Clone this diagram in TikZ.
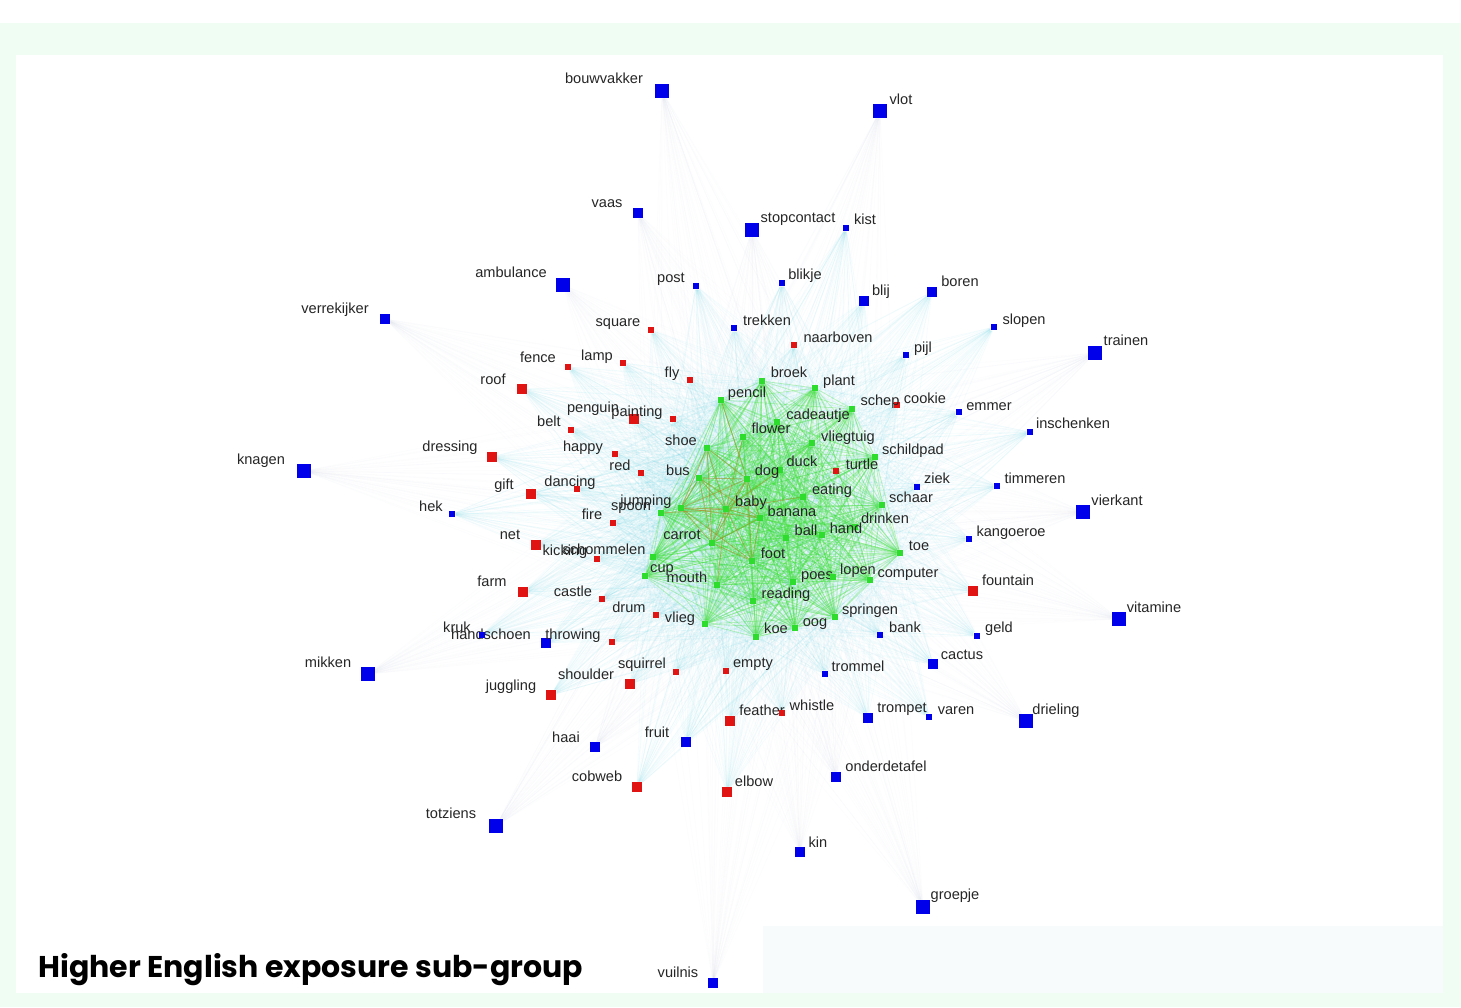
\documentclass[tikz,border=0pt]{standalone}
\usepackage{fontspec}
\setmainfont{Liberation Sans}
\newfontfamily\titlefont{Poppins}
\usetikzlibrary{positioning}
\definecolor{mint}{RGB}{239,253,243}
\definecolor{haze}{RGB}{247,251,251}
\definecolor{nblue}{RGB}{0,0,235}
\definecolor{nred}{RGB}{225,20,20}
\definecolor{ngreen}{RGB}{45,220,45}
\definecolor{farblue}{RGB}{140,160,235}
\definecolor{midcyan}{RGB}{40,205,230}
\definecolor{coregreen}{RGB}{60,225,50}
\definecolor{hotorange}{RGB}{200,120,40}
\pgfdeclarelayer{bg}\pgfdeclarelayer{edges}
\pgfsetlayers{bg,edges,main}

\begin{document}
\begin{tikzpicture}[x=0.5pt,y=-0.5pt,
sq/.style={rectangle,inner sep=0pt,minimum size=#1},
bL/.style={sq=7pt,fill=nblue},bM/.style={sq=5pt,fill=nblue},bS/.style={sq=3.4pt,fill=nblue},
rM/.style={sq=5pt,fill=nred},rS/.style={sq=3.2pt,fill=nred},g/.style={sq=3pt,fill=ngreen},
lbl/.style={anchor=base,yshift=-2.6pt,inner sep=0pt,font=\fontsize{7.3}{8}\selectfont,text=black!85},
faredge/.style={draw=farblue,opacity=.022,line width=.3pt},
midedge/.style={draw=midcyan,opacity=.05,line width=.3pt},
coreedge/.style={draw=coregreen,opacity=.3,line width=.4pt},
hotedge/.style={draw=hotorange,opacity=.45,line width=.4pt}]
\begin{pgfonlayer}{bg}
\fill[white] (0,0) rectangle (1461,1007);
\fill[mint] (0,23) rectangle (1461,1007);
\fill[white] (16,55) rectangle (1443,993);
\fill[haze] (763,926) rectangle (1443,993);
\end{pgfonlayer}
% outer blue words
\node[bL] (bouwvakker) at (662,91) {}; \node[lbl] (t-bouwvakker) at (604,78) {bouwvakker};
\node[bL] (vlot) at (880,111) {}; \node[lbl] (t-vlot) at (901,99) {vlot};
\node[bL] (stopcontact) at (752,230) {}; \node[lbl] (t-stopcontact) at (798,217) {stopcontact};
\node[bL] (ambulance) at (563,285) {}; \node[lbl] (t-ambulance) at (511,272) {ambulance};
\node[bL] (knagen) at (304,471) {}; \node[lbl] (t-knagen) at (261,459) {knagen};
\node[bL] (trainen) at (1095,353) {}; \node[lbl] (t-trainen) at (1126,340) {trainen};
\node[bL] (vierkant) at (1083,512) {}; \node[lbl] (t-vierkant) at (1117,500) {vierkant};
\node[bL] (vitamine) at (1119,619) {}; \node[lbl] (t-vitamine) at (1154,607) {vitamine};
\node[bL] (mikken) at (368,674) {}; \node[lbl] (t-mikken) at (328,662) {mikken};
\node[bL] (drieling) at (1026,721) {}; \node[lbl] (t-drieling) at (1056,709) {drieling};
\node[bL] (totziens) at (496,826) {}; \node[lbl] (t-totziens) at (451,813) {totziens};
\node[bL] (groepje) at (923,907) {}; \node[lbl] (t-groepje) at (955,894) {groepje};
\node[bM] (vaas) at (638,213) {}; \node[lbl] (t-vaas) at (607,202) {vaas};
\node[bM] (blij) at (864,301) {}; \node[lbl] (t-blij) at (881,290) {blij};
\node[bM] (boren) at (932,292) {}; \node[lbl] (t-boren) at (960,281) {boren};
\node[bM] (verrekijker) at (385,319) {}; \node[lbl] (t-verrekijker) at (335,308) {verrekijker};
\node[bM] (handschoen) at (546,643) {}; \node[lbl] (t-handschoen) at (491,634) {handschoen};
\node[bM] (haai) at (595,747) {}; \node[lbl] (t-haai) at (566,737) {haai};
\node[bM] (fruit) at (686,742) {}; \node[lbl] (t-fruit) at (657,732) {fruit};
\node[bM] (trompet) at (868,718) {}; \node[lbl] (t-trompet) at (902,707) {trompet};
\node[bM] (onderdetafel) at (836,777) {}; \node[lbl] (t-onderdetafel) at (886,766) {onderdetafel};
\node[bM] (cactus) at (933,664) {}; \node[lbl] (t-cactus) at (962,654) {cactus};
\node[bM] (kin) at (800,852) {}; \node[lbl] (t-kin) at (818,842) {kin};
\node[bM] (vuilnis) at (713,983) {}; \node[lbl] (t-vuilnis) at (678,972) {vuilnis};
\node[bS] (kist) at (846,228) {}; \node[lbl] (t-kist) at (865,219) {kist};
\node[bS] (post) at (696,286) {}; \node[lbl] (t-post) at (671,277) {post};
\node[bS] (blikje) at (782,283) {}; \node[lbl] (t-blikje) at (805,274) {blikje};
\node[bS] (slopen) at (994,327) {}; \node[lbl] (t-slopen) at (1024,319) {slopen};
\node[bS] (trekken) at (734,328) {}; \node[lbl] (t-trekken) at (767,320) {trekken};
\node[bS] (pijl) at (906,355) {}; \node[lbl] (t-pijl) at (923,347) {pijl};
\node[bS] (emmer) at (959,412) {}; \node[lbl] (t-emmer) at (989,405) {emmer};
\node[bS] (inschenken) at (1030,432) {}; \node[lbl] (t-inschenken) at (1073,423) {inschenken};
\node[bS] (ziek) at (917,487) {}; \node[lbl] (t-ziek) at (937,478) {ziek};
\node[bS] (timmeren) at (997,486) {}; \node[lbl] (t-timmeren) at (1035,478) {timmeren};
\node[bS] (kangoeroe) at (969,539) {}; \node[lbl] (t-kangoeroe) at (1011,531) {kangoeroe};
\node[bS] (bank) at (880,635) {}; \node[lbl] (t-bank) at (905,627) {bank};
\node[bS] (geld) at (977,636) {}; \node[lbl] (t-geld) at (999,627) {geld};
\node[bS] (varen) at (929,717) {}; \node[lbl] (t-varen) at (956,709) {varen};
\node[bS] (trommel) at (825,674) {}; \node[lbl] (t-trommel) at (858,666) {trommel};
\node[bS] (hek) at (452,514) {}; \node[lbl] (t-hek) at (431,506) {hek};
\node[bS] (kruk) at (482,635) {}; \node[lbl] (t-kruk) at (457,627) {kruk};
% red words
\node[rM] (roof) at (522,389) {}; \node[lbl] (t-roof) at (493,379) {roof};
\node[rM] (dressing) at (492,457) {}; \node[lbl] (t-dressing) at (450,446) {dressing};
\node[rM] (gift) at (531,494) {}; \node[lbl] (t-gift) at (504,484) {gift};
\node[rM] (net) at (536,545) {}; \node[lbl] (t-net) at (510,534) {net};
\node[rM] (farm) at (523,592) {}; \node[lbl] (t-farm) at (492,581) {farm};
\node[rM] (penguin) at (634,419) {}; \node[lbl] (t-penguin) at (593,407) {penguin};
\node[rM] (fountain) at (973,591) {}; \node[lbl] (t-fountain) at (1008,580) {fountain};
\node[rM] (shoulder) at (630,684) {}; \node[lbl] (t-shoulder) at (586,674) {shoulder};
\node[rM] (juggling) at (551,695) {}; \node[lbl] (t-juggling) at (511,685) {juggling};
\node[rM] (feather) at (730,721) {}; \node[lbl] (t-feather) at (762,710) {feather};
\node[rM] (cobweb) at (637,787) {}; \node[lbl] (t-cobweb) at (597,776) {cobweb};
\node[rM] (elbow) at (727,792) {}; \node[lbl] (t-elbow) at (754,781) {elbow};
\node[rS] (square) at (651,330) {}; \node[lbl] (t-square) at (618,321) {square};
\node[rS] (naarboven) at (794,345) {}; \node[lbl] (t-naarboven) at (838,337) {naarboven};
\node[rS] (fence) at (568,367) {}; \node[lbl] (t-fence) at (538,357) {fence};
\node[rS] (lamp) at (623,363) {}; \node[lbl] (t-lamp) at (597,355) {lamp};
\node[rS] (fly) at (690,380) {}; \node[lbl] (t-fly) at (672,372) {fly};
\node[rS] (cookie) at (897,405) {}; \node[lbl] (t-cookie) at (925,398) {cookie};
\node[rS] (painting) at (673,419) {}; \node[lbl] (t-painting) at (637,411) {painting};
\node[rS] (belt) at (571,430) {}; \node[lbl] (t-belt) at (549,421) {belt};
\node[rS] (happy) at (615,454) {}; \node[lbl] (t-happy) at (583,446) {happy};
\node[rS] (red) at (641,473) {}; \node[lbl] (t-red) at (620,465) {red};
\node[rS] (dancing) at (577,489) {}; \node[lbl] (t-dancing) at (570,481) {dancing};
\node[rS] (fire) at (613,523) {}; \node[lbl] (t-fire) at (592,514) {fire};
\node[rS] (kicking) at (597,559) {}; \node[lbl] (t-kicking) at (565,550) {kicking};
\node[rS] (castle) at (602,599) {}; \node[lbl] (t-castle) at (573,591) {castle};
\node[rS] (drum) at (656,615) {}; \node[lbl] (t-drum) at (629,607) {drum};
\node[rS] (throwing) at (612,642) {}; \node[lbl] (t-throwing) at (573,634) {throwing};
\node[rS] (squirrel) at (676,672) {}; \node[lbl] (t-squirrel) at (642,663) {squirrel};
\node[rS] (empty) at (726,671) {}; \node[lbl] (t-empty) at (753,662) {empty};
\node[rS] (whistle) at (782,713) {}; \node[lbl] (t-whistle) at (812,705) {whistle};
\node[rS] (turtle) at (836,471) {}; \node[lbl] (t-turtle) at (862,464) {turtle};
% green core words
\node[g] (broek) at (762,381) {}; \node[lbl] (t-broek) at (789,372) {broek};
\node[g] (plant) at (815,388) {}; \node[lbl] (t-plant) at (839,380) {plant};
\node[g] (pencil) at (721,400) {}; \node[lbl] (t-pencil) at (747,392) {pencil};
\node[g] (schep) at (852,409) {}; \node[lbl] (t-schep) at (880,400) {schep};
\node[g] (cadeautje) at (777,422) {}; \node[lbl] (t-cadeautje) at (818,414) {cadeautje};
\node[g] (flower) at (743,437) {}; \node[lbl] (t-flower) at (771,428) {flower};
\node[g] (vliegtuig) at (812,443) {}; \node[lbl] (t-vliegtuig) at (848,436) {vliegtuig};
\node[g] (shoe) at (707,448) {}; \node[lbl] (t-shoe) at (681,440) {shoe};
\node[g] (schildpad) at (875,457) {}; \node[lbl] (t-schildpad) at (913,449) {schildpad};
\node[g] (duck) at (780,470) {}; \node[lbl] (t-duck) at (802,461) {duck};
\node[g] (dog) at (747,479) {}; \node[lbl] (t-dog) at (767,470) {dog};
\node[g] (bus) at (699,478) {}; \node[lbl] (t-bus) at (678,470) {bus};
\node[g] (eating) at (803,497) {}; \node[lbl] (t-eating) at (832,489) {eating};
\node[g] (schaar) at (882,505) {}; \node[lbl] (t-schaar) at (911,497) {schaar};
\node[g] (baby) at (726,509) {}; \node[lbl] (t-baby) at (751,501) {baby};
\node[g] (jumping) at (681,508) {}; \node[lbl] (t-jumping) at (646,500) {jumping};
\node[g] (spoon) at (661,513) {}; \node[lbl] (t-spoon) at (631,505) {spoon};
\node[g] (banana) at (760,518) {}; \node[lbl] (t-banana) at (792,511) {banana};
\node[g] (drinken) at (855,527) {}; \node[lbl] (t-drinken) at (885,518) {drinken};
\node[g] (hand) at (822,535) {}; \node[lbl] (t-hand) at (846,528) {hand};
\node[g] (ball) at (786,538) {}; \node[lbl] (t-ball) at (806,530) {ball};
\node[g] (carrot) at (712,543) {}; \node[lbl] (t-carrot) at (682,534) {carrot};
\node[g] (schommelen) at (653,557) {}; \node[lbl] (t-schommelen) at (604,549) {schommelen};
\node[g] (foot) at (752,561) {}; \node[lbl] (t-foot) at (773,553) {foot};
\node[g] (toe) at (900,553) {}; \node[lbl] (t-toe) at (919,545) {toe};
\node[g] (cup) at (645,576) {}; \node[lbl] (t-cup) at (662,567) {cup};
\node[g] (mouth) at (717,585) {}; \node[lbl] (t-mouth) at (687,577) {mouth};
\node[g] (poes) at (793,582) {}; \node[lbl] (t-poes) at (817,574) {poes};
\node[g] (lopen) at (833,577) {}; \node[lbl] (t-lopen) at (858,569) {lopen};
\node[g] (computer) at (870,580) {}; \node[lbl] (t-computer) at (908,572) {computer};
\node[g] (reading) at (753,601) {}; \node[lbl] (t-reading) at (786,593) {reading};
\node[g] (springen) at (835,617) {}; \node[lbl] (t-springen) at (870,609) {springen};
\node[g] (oog) at (795,628) {}; \node[lbl] (t-oog) at (815,621) {oog};
\node[g] (koe) at (756,637) {}; \node[lbl] (t-koe) at (776,628) {koe};
\node[g] (vlieg) at (705,624) {}; \node[lbl] (t-vlieg) at (680,617) {vlieg};
\node[anchor=base west,inner sep=0pt,font=\titlefont\bfseries\fontsize{15}{17}\selectfont] (title) at (38,977) {Higher English exposure sub-group};
% links
\def\corelist{broek,plant,pencil,schep,cadeautje,flower,vliegtuig,shoe,schildpad,duck,dog,bus,eating,schaar,baby,jumping,spoon,banana,drinken,hand,ball,carrot,schommelen,foot,toe,cup,mouth,poes,lopen,computer,reading,springen,oog,koe,vlieg}
\def\farlist{bouwvakker,vlot,stopcontact,ambulance,knagen,trainen,vierkant,vitamine,mikken,drieling,totziens,groepje,vaas,verrekijker,kin,vuilnis,onderdetafel,haai}
\def\midlist{blij,boren,handschoen,fruit,trompet,cactus,kist,post,blikje,slopen,trekken,pijl,emmer,inschenken,ziek,timmeren,kangoeroe,bank,geld,varen,trommel,hek,kruk,roof,dressing,gift,net,farm,penguin,fountain,shoulder,juggling,feather,cobweb,elbow,square,naarboven,fence,lamp,fly,cookie,painting,belt,happy,red,dancing,fire,kicking,castle,drum,throwing,squirrel,empty,whistle,turtle}
\begin{pgfonlayer}{edges}
\foreach \a in \farlist {\foreach \b in \corelist {\draw[faredge] (\a) -- (\b);}}
\foreach \a in \midlist {\foreach \b in \corelist {\draw[midedge] (\a) -- (\b);}}
\foreach \a [count=\i] in \corelist {\foreach \b [count=\j] in \corelist {\ifnum\j>\i \draw[coreedge] (\a) -- (\b);\fi}}
\foreach \a/\b in {jumping/dog,jumping/baby,jumping/banana,jumping/bus,jumping/carrot,jumping/shoe,bus/dog,bus/baby,bus/banana,shoe/baby,shoe/carrot,dog/baby,dog/carrot,carrot/baby,carrot/banana,baby/banana,baby/foot,dog/foot,shoe/dog,bus/carrot,pencil/dog,flower/baby,spoon/baby,dog/banana,foot/banana,foot/carrot,jumping/foot,duck/baby,eating/baby,mouth/baby}
  \draw[hotedge] (\a) -- (\b);
\end{pgfonlayer}
\end{tikzpicture}
\end{document}
